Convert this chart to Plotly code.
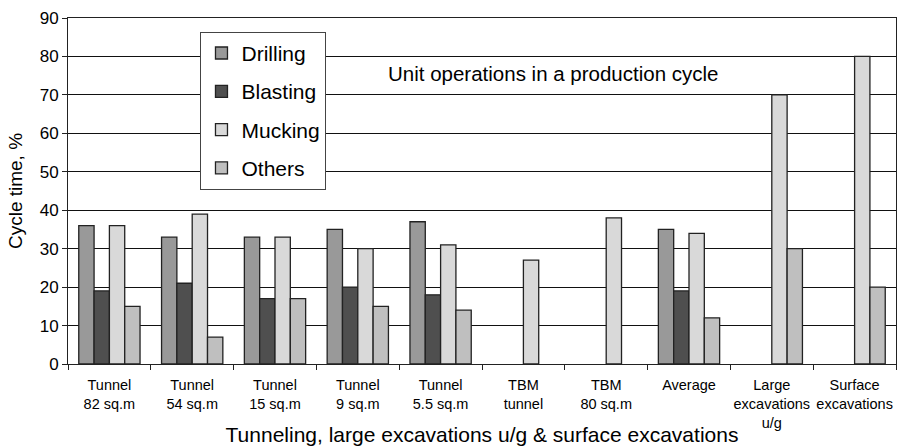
import plotly.graph_objects as go

categories = [
    "Tunnel<br>82 sq.m", "Tunnel<br>54 sq.m", "Tunnel<br>15 sq.m", "Tunnel<br>9 sq.m",
    "Tunnel<br>5.5 sq.m", "TBM<br>tunnel", "TBM<br>80 sq.m", "Average",
    "Large<br>excavations<br>u/g", "Surface<br>excavations",
]
drilling = [36, 33, 33, 35, 37, None, None, 35, None, None]
blasting = [19, 21, 17, 20, 18, None, None, 19, None, None]
mucking = [36, 39, 33, 30, 31, 27, 38, 34, 70, 80]
others = [15, 7, 17, 15, 14, None, None, 12, 30, 20]

series = [
    ("Drilling", drilling, "#999999"),
    ("Blasting", blasting, "#4f4f4f"),
    ("Mucking", mucking, "#d9d9d9"),
    ("Others", others, "#bfbfbf"),
]

fig = go.Figure()
for name, vals, color in series:
    fig.add_trace(go.Bar(
        x=categories, y=vals, name=name, legendgroup=name,
        marker=dict(color=color, line=dict(color="#222222", width=1.3)),
    ))

fig.update_layout(
    width=917, height=446,
    margin=dict(l=68, r=21, t=18, b=82),
    paper_bgcolor="white", plot_bgcolor="white",
    barmode="group", bargap=0.26, bargroupgap=0,
    font=dict(family="Liberation Sans", color="black", size=14),
    showlegend=True,
    legend=dict(
        x=0.16, y=0.96, xanchor="left", yanchor="top",
        bgcolor="white", bordercolor="#444444", borderwidth=1,
        font=dict(size=21), tracegroupgap=8, itemwidth=30,
    ),
    xaxis=dict(
        type="category", tickson="boundaries", ticks="outside", ticklen=5,
        tickcolor="#222222", showgrid=False, showline=True, linecolor="#222222",
        linewidth=1, mirror=True, tickfont=dict(size=14.5), tickangle=0,
        ticklabelstandoff=8, automargin=False,
        title=dict(text="Tunneling, large excavations u/g & surface excavations",
                   font=dict(size=21), standoff=4),
    ),
    yaxis=dict(
        range=[0, 90], dtick=10, ticks="outside", ticklen=5, tickcolor="#222222",
        showgrid=True, gridcolor="#111111", gridwidth=1, zeroline=False,
        showline=True, linecolor="#222222", linewidth=1, mirror=True,
        tickfont=dict(size=17), automargin=False,
        title=dict(text="Cycle time, %", font=dict(size=19), standoff=12),
    ),
    annotations=[dict(
        text="Unit operations in a production cycle", x=0.586, y=75.5,
        xref="paper", yref="y", showarrow=False, font=dict(size=20.5),
        xanchor="center", yanchor="middle",
    )],
)

fig.write_html("out.html")
